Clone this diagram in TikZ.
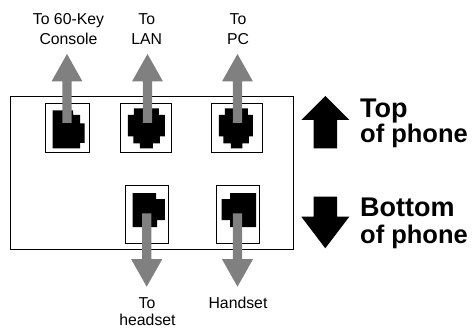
\documentclass[tikz,border=0pt]{standalone}
\usepackage{fontspec}
\setmainfont{Liberation Sans}
\usetikzlibrary{calc}
\definecolor{arrowgray}{RGB}{128,128,128}
\tikzset{
  casebox/.style={draw=black, line width=0.9pt, inner sep=0pt, outer sep=0pt},
  jackbox/.style={draw=black, line width=1pt, fill=white, inner sep=0pt, outer sep=0pt},
  lbl/.style={font=\fontsize{15.8}{19}\selectfont, inner sep=0pt, anchor=base},
  bigtxt/.style={font=\bfseries\fontsize{27}{30}\selectfont, inner sep=0pt, anchor=base west},
  subtxt/.style={font=\bfseries\fontsize{25.5}{30}\selectfont, inner sep=0pt, anchor=base west},
}
% #1 start node/coordinate, #2 tip coordinate, #3 direction (1 up, -1 down), #4 start offset
\newcommand\fatarrow[4]{%
  \fill[arrowgray] let \p1=(#1), \p2=(#2) in
    (\x2-4.6pt,{\y1+(#3)*#4}) -- (\x2-4.6pt,{\y2-(#3)*27.5pt}) --
    (\x2-15.5pt,{\y2-(#3)*27.5pt}) -- (\x2,\y2) --
    (\x2+15.5pt,{\y2-(#3)*27.5pt}) -- (\x2+4.6pt,{\y2-(#3)*27.5pt}) --
    (\x2+4.6pt,{\y1+(#3)*#4}) -- cycle;}
\begin{document}
\begin{tikzpicture}[x=1pt,y=-1pt]
\useasboundingbox (0,0) rectangle (472,329);
\fill[white] (0,0) rectangle (472,329);

% phone case
\node[casebox, minimum width=283pt, minimum height=152.5pt] (phone) at (151.5,172.75) {};

% jacks
\node[jackbox, minimum width=44pt, minimum height=49pt] (console) at (67,128.5) {};
\node[jackbox, minimum width=50.5pt, minimum height=49pt] (lan) at (145.75,128.5) {};
\node[jackbox, minimum width=50.5pt, minimum height=49pt] (pc) at (236.75,128.5) {};
\node[jackbox, minimum width=43.3pt, minimum height=58.3pt] (headset) at (146.65,214.15) {};
\node[jackbox, minimum width=42.6pt, minimum height=58.3pt] (handset) at (238,214.15) {};

\begin{scope}[shift={(console.center)}]
  \fill[black] (-14.5,-18) -- (6,-18) -- (6,-13.5) -- (13,-13.5) -- (13,-5) -- (17.5,-5)
    -- (17.5,14.5) -- (13,14.5) -- (13,20) -- (-14.5,20) -- cycle;
\end{scope}
\begin{scope}[shift={(lan.center)}]
  \fill[black] (-12,-20.2) -- (13,-20.2) -- (13,-13.5) -- (19,-13.5) -- (19,8) -- (14,8)
    -- (14,14.8) -- (7,14.8) -- (7,19.8) -- (-6,19.8) -- (-6,14.8) -- (-12.5,14.8)
    -- (-12.5,8) -- (-18,8) -- (-18,-13.5) -- (-12,-13.5) -- cycle;
\end{scope}
\begin{scope}[shift={(pc.center)}]
  \fill[black] (-12,-20.2) -- (11,-20.2) -- (11,-13.5) -- (16,-13.5) -- (16,8) -- (12,8)
    -- (12,14.8) -- (5.5,14.8) -- (5.5,19.8) -- (-6,19.8) -- (-6,14.8) -- (-13.5,14.8)
    -- (-13.5,8) -- (-18,8) -- (-18,-13.5) -- (-12,-13.5) -- cycle;
\end{scope}
\begin{scope}[shift={(headset.center)}]
  \fill[black] (-14,-21) -- (9.5,-21) -- (9.5,-15) -- (18.3,-15) -- (18.3,6) -- (10.5,6)
    -- (10.5,13) -- (-14,13) -- cycle;
\end{scope}
\begin{scope}[shift={(handset.center)}]
  \fill[black] (18,-21) -- (-8,-21) -- (-8,-15) -- (-16.3,-15) -- (-16.3,6) -- (-8,6)
    -- (-8,13) -- (18,13) -- cycle;
\end{scope}

% labels
\node[lbl] (lc1) at (68.5,25) {To 60-Key};
\node[lbl] (lc2) at (68.5,45) {Console};
\node[lbl] (ll1) at (146.7,25) {To};
\node[lbl] (ll2) at (146.7,45) {LAN};
\node[lbl] (lp1) at (238,25) {To};
\node[lbl] (lp2) at (238,45) {PC};
\node[lbl] (lh1) at (147,308.3) {To};
\node[lbl] (lh2) at (147.5,325) {headset};
\node[lbl] (lhs) at (238,308.3) {Handset};

% arrow tips
\coordinate (tipC) at (67,54);
\coordinate (tipL) at (147.5,54);
\coordinate (tipP) at (237.5,54);
\coordinate (tipH) at (146.7,286.7);
\coordinate (tipS) at (237.5,286.7);

\fatarrow{console.center}{tipC}{1}{5.5pt}
\fatarrow{lan.center}{tipL}{1}{5.5pt}
\fatarrow{pc.center}{tipP}{1}{5.5pt}
\fatarrow{headset.center}{tipH}{-1}{-0.8pt}
\fatarrow{handset.center}{tipS}{-1}{-0.8pt}

% top / bottom indicators
\fill[black] (313.6,148.3) -- (313.6,120) -- (301.3,120) -- (325.3,96) -- (349.3,120)
  -- (337,120) -- (337,148.3) -- cycle;
\fill[black] (313.6,196.7) -- (313.6,216.7) -- (301.3,216.7) -- (325.3,248.3) -- (349.3,216.7)
  -- (337,216.7) -- (337,196.7) -- cycle;

\node[bigtxt] (top) at (360,117.3) {Top};
\node[subtxt] (topsub) at (360,142.3) {of phone};
\node[bigtxt] (bot) at (360,216.7) {Bottom};
\node[subtxt] (botsub) at (360,243.3) {of phone};
\end{tikzpicture}
\end{document}
